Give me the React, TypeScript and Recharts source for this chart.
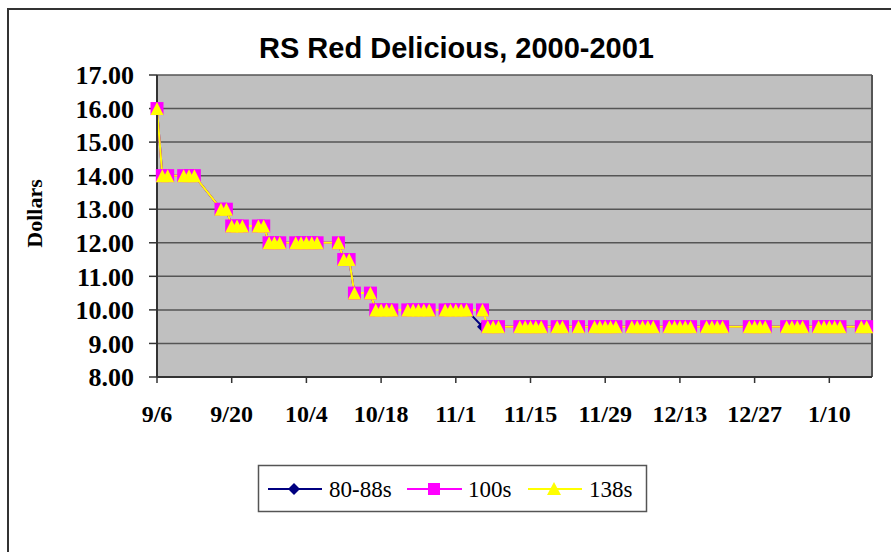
import React from 'react';
import { LineChart, Line, XAxis, YAxis, CartesianGrid, ReferenceLine } from 'recharts';

// trading days, 2000-2001 season
const dates = [
  '9/6/2000', '9/7/2000', '9/8/2000', '9/11/2000', '9/12/2000', '9/13/2000',
  '9/18/2000', '9/19/2000', '9/20/2000', '9/21/2000', '9/22/2000', '9/25/2000', '9/26/2000',
  '9/27/2000', '9/28/2000', '9/29/2000', '10/2/2000', '10/3/2000', '10/4/2000', '10/5/2000', '10/6/2000',
  '10/10/2000', '10/11/2000', '10/12/2000', '10/13/2000', '10/16/2000',
  '10/17/2000', '10/18/2000', '10/19/2000', '10/20/2000',
  '10/23/2000', '10/24/2000', '10/25/2000', '10/26/2000', '10/27/2000',
  '10/30/2000', '10/31/2000', '11/1/2000', '11/2/2000', '11/3/2000', '11/6/2000',
  '11/7/2000', '11/8/2000', '11/9/2000',
  '11/13/2000', '11/14/2000', '11/15/2000', '11/16/2000', '11/17/2000',
  '11/20/2000', '11/21/2000', '11/24/2000',
  '11/27/2000', '11/28/2000', '11/29/2000', '11/30/2000', '12/1/2000',
  '12/4/2000', '12/5/2000', '12/6/2000', '12/7/2000', '12/8/2000',
  '12/11/2000', '12/12/2000', '12/13/2000', '12/14/2000', '12/15/2000',
  '12/18/2000', '12/19/2000', '12/20/2000', '12/21/2000',
  '12/26/2000', '12/27/2000', '12/28/2000', '12/29/2000',
  '1/2/2001', '1/3/2001', '1/4/2001', '1/5/2001',
  '1/8/2001', '1/9/2001', '1/10/2001', '1/11/2001', '1/12/2001',
  '1/16/2001', '1/17/2001',
];

const price8088s = [
  16, 14, 14, 14, 14, 14,
  13, 13, 12.5, 12.5, 12.5, 12.5, 12.5,
  12, 12, 12, 12, 12, 12, 12, 12,
  12, 11.5, 11.5, 10.5, 10.5,
  10, 10, 10, 10,
  10, 10, 10, 10, 10,
  10, 10, 10, 10, 10, 9.5,
  9.5, 9.5, 9.5,
  9.5, 9.5, 9.5, 9.5, 9.5,
  9.5, 9.5, 9.5,
  9.5, 9.5, 9.5, 9.5, 9.5,
  9.5, 9.5, 9.5, 9.5, 9.5,
  9.5, 9.5, 9.5, 9.5, 9.5,
  9.5, 9.5, 9.5, 9.5,
  9.5, 9.5, 9.5, 9.5,
  9.5, 9.5, 9.5, 9.5,
  9.5, 9.5, 9.5, 9.5, 9.5,
  9.5, 9.5,
];

const price100s = [
  16, 14, 14, 14, 14, 14,
  13, 13, 12.5, 12.5, 12.5, 12.5, 12.5,
  12, 12, 12, 12, 12, 12, 12, 12,
  12, 11.5, 11.5, 10.5, 10.5,
  10, 10, 10, 10,
  10, 10, 10, 10, 10,
  10, 10, 10, 10, 10, 10,
  9.5, 9.5, 9.5,
  9.5, 9.5, 9.5, 9.5, 9.5,
  9.5, 9.5, 9.5,
  9.5, 9.5, 9.5, 9.5, 9.5,
  9.5, 9.5, 9.5, 9.5, 9.5,
  9.5, 9.5, 9.5, 9.5, 9.5,
  9.5, 9.5, 9.5, 9.5,
  9.5, 9.5, 9.5, 9.5,
  9.5, 9.5, 9.5, 9.5,
  9.5, 9.5, 9.5, 9.5, 9.5,
  9.5, 9.5,
];

const price138s = [
  16, 14, 14, 14, 14, 14,
  13, 13, 12.5, 12.5, 12.5, 12.5, 12.5,
  12, 12, 12, 12, 12, 12, 12, 12,
  12, 11.5, 11.5, 10.5, 10.5,
  10, 10, 10, 10,
  10, 10, 10, 10, 10,
  10, 10, 10, 10, 10, 10,
  9.5, 9.5, 9.5,
  9.5, 9.5, 9.5, 9.5, 9.5,
  9.5, 9.5, 9.5,
  9.5, 9.5, 9.5, 9.5, 9.5,
  9.5, 9.5, 9.5, 9.5, 9.5,
  9.5, 9.5, 9.5, 9.5, 9.5,
  9.5, 9.5, 9.5, 9.5,
  9.5, 9.5, 9.5, 9.5,
  9.5, 9.5, 9.5, 9.5,
  9.5, 9.5, 9.5, 9.5, 9.5,
  9.5, 9.5,
];

const tickDates = [
  '9/6/2000', '9/20/2000', '10/4/2000', '10/18/2000', '11/1/2000',
  '11/15/2000', '11/29/2000', '12/13/2000', '12/27/2000', '1/10/2001',
];
const axisEndDate = '1/18/2001';
const yTicks = [8, 9, 10, 11, 12, 13, 14, 15, 16, 17];

const toDay = (s: string) => {
  const [m, d, y] = s.split('/').map(Number);
  return Math.round((Date.UTC(y, m - 1, d) - Date.UTC(2000, 8, 6)) / 86400000);
};

const data = dates.map((d, i) => ({
  day: toDay(d),
  s8088: price8088s[i],
  s100: price100s[i],
  s138: price138s[i],
}));

const xTicks = tickDates.map(toDay);
const xLabels: Record<number, string> = {};
tickDates.forEach((d) => {
  xLabels[toDay(d)] = d.split('/').slice(0, 2).join('/');
});
const axisEnd = toDay(axisEndDate);

const serif = '"Liberation Serif", "Times New Roman", serif';
const sans = '"Liberation Sans", Arial, sans-serif';

const Diamond = (p: any) => {
  if (p.cx == null || p.cy == null) return <g key={`d${p.index}`} />;
  const r = 5.5;
  return (
    <polygon
      key={`d${p.index}`}
      points={`${p.cx},${p.cy - r} ${p.cx + r},${p.cy} ${p.cx},${p.cy + r} ${p.cx - r},${p.cy}`}
      fill="#000080"
    />
  );
};

const Square = (p: any) => {
  if (p.cx == null || p.cy == null) return <g key={`s${p.index}`} />;
  const r = 6.5;
  return <rect key={`s${p.index}`} x={p.cx - r} y={p.cy - r} width={r * 2} height={r * 2} fill="#FF00FF" />;
};

const Triangle = (p: any) => {
  if (p.cx == null || p.cy == null) return <g key={`t${p.index}`} />;
  const r = 6.5;
  return (
    <polygon
      key={`t${p.index}`}
      points={`${p.cx},${p.cy - r} ${p.cx + r},${p.cy + r} ${p.cx - r},${p.cy + r}`}
      fill="#FFFF00"
    />
  );
};

const App: React.FC = () => {
  return (
    <div
      style={{
        position: 'fixed',
        left: 0,
        top: 0,
        width: 891,
        height: 552,
        overflow: 'hidden',
        background: '#fff',
      }}
    >
      <div
        style={{
          position: 'absolute',
          left: 7,
          top: 8,
          width: 1000,
          height: 1000,
          border: '2px solid #333',
        }}
      />
      <div style={{ position: 'absolute', left: 0, top: 0 }}>
        <LineChart width={891} height={552} data={data} margin={{ top: 75, right: 19, left: 77, bottom: 135 }}>
          <CartesianGrid vertical={false} fill="#C0C0C0" fillOpacity={1} stroke="#555" strokeWidth={1.5} />
          <XAxis
            dataKey="day"
            type="number"
            domain={[0, axisEnd]}
            ticks={xTicks}
            interval={0}
            tickFormatter={(v: number) => xLabels[v] ?? ''}
            height={40}
            tickSize={6}
            tickMargin={22}
            axisLine={{ stroke: '#333', strokeWidth: 2 }}
            tickLine={{ stroke: '#333', strokeWidth: 1.5 }}
            tick={{ fill: '#000', fontSize: 24, fontWeight: 'bold', fontFamily: serif }}
          />
          <YAxis
            type="number"
            domain={[8, 17]}
            ticks={yTicks}
            interval={0}
            tickFormatter={(v: number) => v.toFixed(2)}
            width={80}
            tickSize={8}
            tickMargin={15}
            axisLine={{ stroke: '#333', strokeWidth: 2 }}
            tickLine={{ stroke: '#333', strokeWidth: 1.5 }}
            tick={{ fill: '#000', fontSize: 26, fontWeight: 'bold', fontFamily: serif }}
          />
          <ReferenceLine x={axisEnd} stroke="#555" strokeWidth={2} />
          <Line
            dataKey="s8088"
            name="80-88s"
            stroke="#000080"
            strokeWidth={2}
            dot={Diamond}
            activeDot={false}
            isAnimationActive={false}
          />
          <Line
            dataKey="s100"
            name="100s"
            stroke="#FF00FF"
            strokeWidth={2}
            dot={Square}
            activeDot={false}
            isAnimationActive={false}
          />
          <Line
            dataKey="s138"
            name="138s"
            stroke="#FFFF00"
            strokeWidth={2}
            dot={Triangle}
            activeDot={false}
            isAnimationActive={false}
          />
        </LineChart>
      </div>
      <svg
        width={891}
        height={552}
        style={{ position: 'absolute', left: 0, top: 0, pointerEvents: 'none' }}
      >
        <text x={456.5} y={58} textAnchor="middle" fontFamily={sans} fontWeight="bold" fontSize={29} fill="#000">
          RS Red Delicious, 2000-2001
        </text>
        <text
          transform="translate(41.5,213.5) rotate(-90)"
          textAnchor="middle"
          fontFamily={serif}
          fontWeight="bold"
          fontSize={22}
          fill="#000"
        >
          Dollars
        </text>

        <rect x={258.5} y={465.5} width={388} height={46} fill="#fff" stroke="#555" strokeWidth={1.5} />

        <line x1={268} y1={489} x2={322} y2={489} stroke="#000080" strokeWidth={2} />
        <polygon points="294,483 300,489 294,495 288,489" fill="#000080" />
        <text x={329} y={496.5} fontFamily={serif} fontSize={23} fill="#000">80-88s</text>

        <line x1={407} y1={489} x2={462} y2={489} stroke="#FF00FF" strokeWidth={2} />
        <rect x={428} y={483} width={12} height={12} fill="#FF00FF" />
        <text x={468} y={496.5} fontFamily={serif} fontSize={23} fill="#000">100s</text>

        <line x1={528} y1={489} x2={582} y2={489} stroke="#FFFF00" strokeWidth={2} />
        <polygon points="554,482 561,495 547,495" fill="#FFFF00" />
        <text x={589} y={496.5} fontFamily={serif} fontSize={23} fill="#000">138s</text>
      </svg>
    </div>
  );
};

export default App;
